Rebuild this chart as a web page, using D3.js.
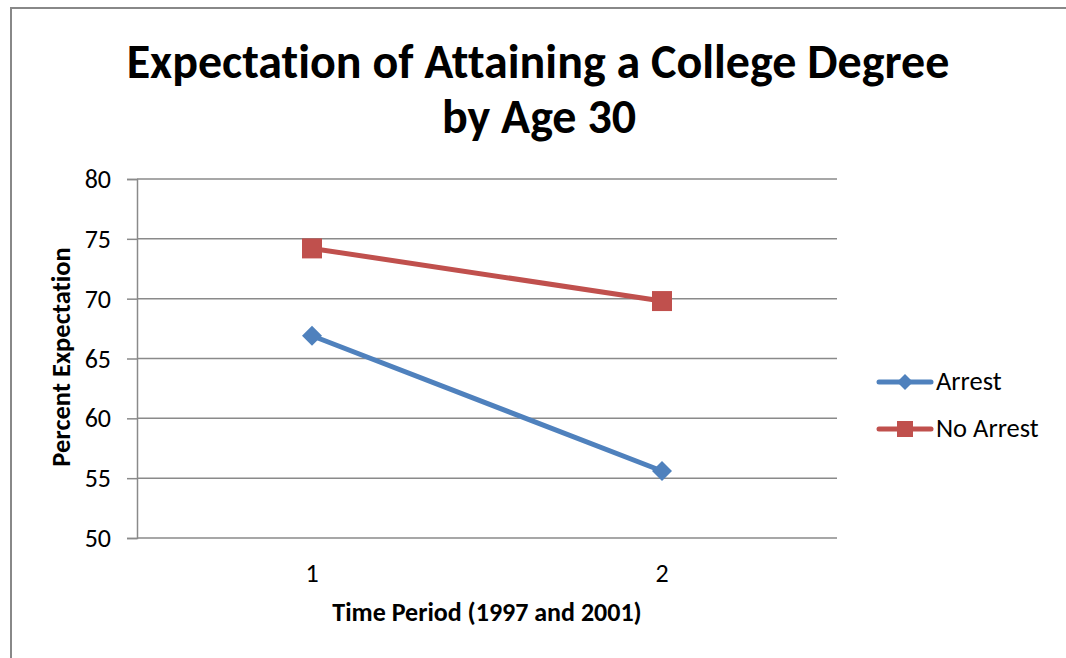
<!DOCTYPE html>
<html>
<head>
<meta charset="utf-8">
<script src="https://cdn.jsdelivr.net/npm/d3@7"></script>
<style>
  html, body { margin: 0; padding: 0; background: #fff; }
  svg { display: block; }
  text { font-family: Carlito, "Open Sans", "Liberation Sans", sans-serif; fill: #000; font-variant-ligatures: none; }
</style>
</head>
<body>
<script>
// Chart data
const categories = ["1", "2"];
const seriesNames = ["Arrest", "No Arrest"];
const arrestValues = [66.9, 55.6];
const noArrestValues = [74.2, 69.8];
const yTicks = [50, 55, 60, 65, 70, 75, 80];

const titleLines = ["Expectation of Attaining a College Degree", "by Age 30"];
const xAxisTitle = "Time Period (1997 and 2001)";
const yAxisTitle = "Percent Expectation";

const W = 1066, H = 658;
const plot = { left: 137, right: 837, top: 179, bottom: 538 };

const svg = d3.select("body").append("svg").attr("width", W).attr("height", H);

// outer chart frame (left and top edges visible)
svg.append("path")
  .attr("d", `M11,${H} L11,8 L${W},8`)
  .attr("fill", "none").attr("stroke", "#888").attr("stroke-width", 2);

const x = d3.scaleBand().domain(categories).range([plot.left, plot.right]);
const y = d3.scaleLinear().domain([50, 80]).range([plot.bottom, plot.top]);

// horizontal gridlines
svg.append("g").selectAll("line").data(yTicks).join("line")
  .attr("x1", plot.left).attr("x2", plot.right)
  .attr("y1", d => y(d)).attr("y2", d => y(d))
  .attr("stroke", "#8a8a8a").attr("stroke-width", 1.5);

// y axis with outward ticks
const yAxis = svg.append("g").attr("transform", `translate(${plot.left},0)`)
  .call(d3.axisLeft(y).tickValues(yTicks).tickSize(10).tickPadding(16));
yAxis.attr("font-family", null).attr("font-size", null);
yAxis.select(".domain").attr("stroke", "#8a8a8a").attr("stroke-width", 1.5);
yAxis.selectAll(".tick line").attr("stroke", "#8a8a8a").attr("stroke-width", 1.5);
yAxis.selectAll(".tick text").attr("font-size", 26).attr("dy", "0.33em");

// x axis labels (no tick marks)
const xAxis = svg.append("g").attr("transform", `translate(0,${plot.bottom})`)
  .call(d3.axisBottom(x).tickSize(0).tickPadding(26));
xAxis.attr("font-family", null).attr("font-size", null);
xAxis.select(".domain").remove();
xAxis.selectAll(".tick text").attr("font-size", 26).attr("dy", null).attr("y", 44);

// title
svg.append("text").attr("x", 538).attr("y", 78)
  .attr("text-anchor", "middle").attr("font-size", 48).attr("font-weight", "bold")
  .text(titleLines[0]);
svg.append("text").attr("x", 539).attr("y", 133)
  .attr("text-anchor", "middle").attr("font-size", 48).attr("font-weight", "bold")
  .text(titleLines[1]);

// axis titles
svg.append("text").attr("x", 487).attr("y", 621)
  .attr("text-anchor", "middle").attr("font-size", 26).attr("font-weight", "bold")
  .text(xAxisTitle);
svg.append("text").attr("transform", "translate(70,357) rotate(-90)")
  .attr("text-anchor", "middle").attr("font-size", 26.5).attr("font-weight", "bold")
  .text(yAxisTitle);

const series = [
  { name: seriesNames[0], values: arrestValues, color: "#4F81BD" },
  { name: seriesNames[1], values: noArrestValues, color: "#C0504D" }
];

const cx = c => x(c) + x.bandwidth() / 2;
const line = d3.line().x((d, i) => cx(categories[i])).y(d => y(d));

series.forEach(s => {
  svg.append("path").datum(s.values)
    .attr("d", line).attr("fill", "none")
    .attr("stroke", s.color).attr("stroke-width", 5).attr("stroke-linecap", "round");
});

// markers: diamond for Arrest, square for No Arrest
const diamond = sz => `M0,${-sz} L${sz},0 L0,${sz} L${-sz},0 Z`;
const square = sz => `M${-sz},${-sz} H${sz} V${sz} H${-sz} Z`;
series.forEach((s, si) => {
  svg.append("g").selectAll("path").data(s.values).join("path")
    .attr("transform", (d, i) => `translate(${cx(categories[i])},${y(d)})`)
    .attr("d", si === 0 ? diamond(10) : square(10))
    .attr("fill", s.color);
});

// legend
const legendY = [382, 429];
series.forEach((s, i) => {
  const g = svg.append("g").attr("transform", `translate(0,${legendY[i]})`);
  g.append("line").attr("x1", 879).attr("x2", 931).attr("y1", 0).attr("y2", 0)
    .attr("stroke", s.color).attr("stroke-width", 5).attr("stroke-linecap", "round");
  g.append("path").attr("transform", "translate(905,0)")
    .attr("d", i === 0 ? diamond(8) : square(8)).attr("fill", s.color);
  g.append("text").attr("x", 936).attr("y", 8).attr("font-size", 26.5).text(s.name);
});
</script>
</body>
</html>
